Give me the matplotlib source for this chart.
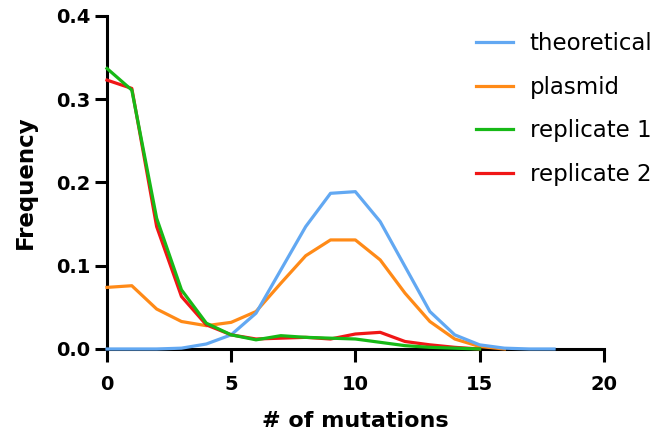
import matplotlib
matplotlib.use("Agg")
import matplotlib.pyplot as plt

mutations = list(range(0, 19))

theoretical = [0.0, 0.0, 0.0, 0.001, 0.006, 0.017, 0.043, 0.095, 0.147, 0.187, 0.189,
               0.153, 0.099, 0.045, 0.017, 0.005, 0.001, 0.0, 0.0]
plasmid = [0.074, 0.076, 0.048, 0.033, 0.028, 0.032, 0.045, 0.079, 0.112, 0.131, 0.131,
           0.107, 0.067, 0.033, 0.012, 0.003, 0.0]
replicate1 = [0.337, 0.311, 0.157, 0.071, 0.031, 0.017, 0.011, 0.016, 0.014, 0.013, 0.012,
              0.008, 0.004, 0.002, 0.001, 0.0]
replicate2 = [0.323, 0.313, 0.147, 0.063, 0.029, 0.017, 0.012, 0.013, 0.014, 0.012, 0.018,
              0.020, 0.009, 0.005, 0.002, 0.0]

x_ticks = [0, 5, 10, 15, 20]
y_ticks = [0.0, 0.1, 0.2, 0.3, 0.4]

plt.rcParams['font.family'] = ['DejaVu Sans']

fig = plt.figure(figsize=(6.62, 4.37), dpi=100)
ax = fig.add_axes([0.1616, 0.2014, 0.7504, 0.762])

lw = 2.3
l_theo, = ax.plot(mutations[:len(theoretical)], theoretical, color='#62A8F2', lw=lw,
                  zorder=3, clip_on=False)
l_pla, = ax.plot(mutations[:len(plasmid)], plasmid, color='#FF8A17', lw=lw,
                 zorder=2, clip_on=False)
l_r1, = ax.plot(mutations[:len(replicate1)], replicate1, color='#17B917', lw=lw,
                zorder=5, clip_on=False)
l_r2, = ax.plot(mutations[:len(replicate2)], replicate2, color='#F01616', lw=lw,
                zorder=4, clip_on=False)

ax.set_xlim(0, 20)
ax.set_ylim(0, 0.4)
ax.set_xticks(x_ticks)
ax.set_yticks(y_ticks)
ax.set_yticklabels([f"{v:.1f}" for v in y_ticks])

for side in ('top', 'right'):
    ax.spines[side].set_visible(False)
for side in ('left', 'bottom'):
    ax.spines[side].set_linewidth(2.2)
    ax.spines[side].set_zorder(1)

ax.tick_params(axis='both', which='major', length=9, width=2.2, direction='out',
               labelsize=14)
ax.tick_params(axis='x', pad=10)
ax.tick_params(axis='y', pad=3)
for lab in ax.get_xticklabels() + ax.get_yticklabels():
    lab.set_fontweight('bold')

ax.set_xlabel('# of mutations', fontsize=16, fontweight='bold', labelpad=12)
ax.set_ylabel('Frequency', fontsize=16.5, fontweight='bold', labelpad=14)

leg = fig.legend([l_theo, l_pla, l_r1, l_r2],
                 ['theoretical', 'plasmid', 'replicate 1', 'replicate 2'],
                 loc='upper left', bbox_to_anchor=(0.719, 0.927), frameon=False,
                 fontsize=16.5, handlelength=1.6, handletextpad=0.75,
                 labelspacing=0.9, borderpad=0, borderaxespad=0)

fig.savefig('out.png', dpi=100)
